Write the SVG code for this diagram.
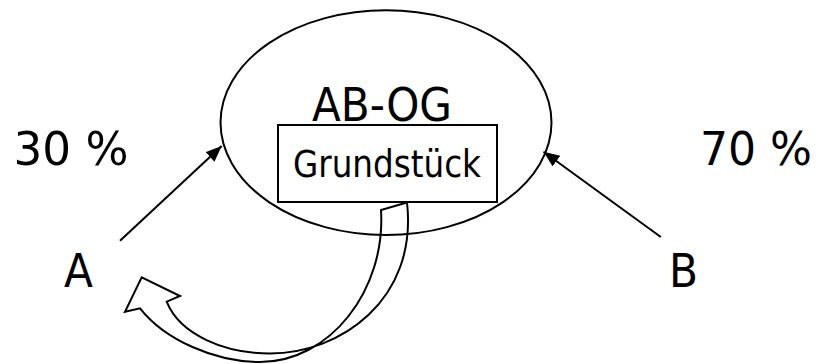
<svg xmlns="http://www.w3.org/2000/svg" width="817" height="364" viewBox="0 0 817 364">
  <style>
    .t { font-family: "DejaVu Sans Condensed", "DejaVu Sans", sans-serif; fill: #000; }
    .big { font-size: 47px; }
    .mid { font-size: 37px; }
    .ln { stroke: #000; stroke-width: 2; fill: none; }
  </style>
  <defs>
    <marker id="ah" markerUnits="userSpaceOnUse" markerWidth="18" markerHeight="14" refX="16" refY="6.5" orient="auto">
      <path d="M0,0 L16,6.5 L0,13 Z" fill="#000"/>
    </marker>
  </defs>
  <rect width="817" height="364" fill="#fff"/>

  <g id="node-abog">
    <ellipse class="ln" cx="386" cy="122.6" rx="165.5" ry="112.4"/>
    <text class="t big" x="312" y="121" textLength="140" lengthAdjust="spacingAndGlyphs">AB-OG</text>
  </g>

  <g id="node-grundstueck">
    <rect class="ln" x="278" y="125" width="219" height="77" stroke-width="1.8"/>
    <text class="t mid" x="293" y="177" textLength="188" lengthAdjust="spacingAndGlyphs">Grundstück</text>
  </g>

  <g id="node-a">
    <text class="t big" x="64" y="287">A</text>
  </g>
  <g id="node-b">
    <text class="t big" x="669" y="287">B</text>
  </g>
  <g id="label-30">
    <text class="t big" x="13.5" y="165" textLength="115" lengthAdjust="spacingAndGlyphs">30 %</text>
  </g>
  <g id="label-70">
    <text class="t big" x="700" y="165" textLength="112" lengthAdjust="spacingAndGlyphs">70 %</text>
  </g>

  <g id="connectors">
    <line class="ln" x1="120" y1="240.7" x2="221.7" y2="146" marker-end="url(#ah)"/>
    <line class="ln" x1="660.8" y1="237" x2="543.5" y2="151.7" marker-end="url(#ah)"/>
    <path class="ln" d="M407,202.5 L381,210 C386,290 330,362 260,362 C215,362 165,340 140,308.3 L125,311.7 L141.7,277.3 L180,296 L166.7,301.7 C180,335 225,353.5 270,353.5 C340,353.5 418,300 407,202.5 Z"/>
  </g>
</svg>
